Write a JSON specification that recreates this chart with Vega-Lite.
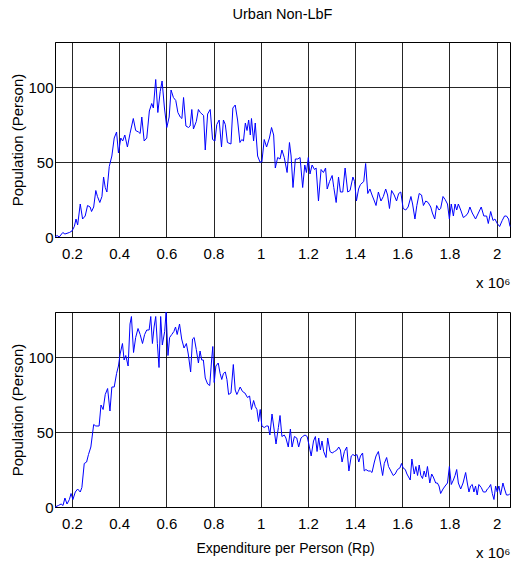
{
  "$schema": "https://vega.github.io/schema/vega-lite/v6.json",
  "background": "white",
  "padding": {"left": 10, "top": 6, "right": 3, "bottom": 5},
  "spacing": 18,
  "config": {
    "font": "Liberation Sans",
    "view": {"stroke": "black", "strokeWidth": 1},
    "axis": {
      "grid": true, "gridColor": "black", "gridOpacity": 0.85, "gridWidth": 1,
      "domainColor": "black", "ticks": false, "tickSize": 0,
      "labelFont": "Liberation Sans", "labelFontSize": 15, "labelColor": "black",
      "titleFont": "Liberation Sans", "titleFontSize": 15, "titleFontWeight": "normal", "titleColor": "black"
    },
    "axisX": {"labelPadding": 9, "labelFlush": false, "titlePadding": 14, "titleAnchor": "end"},
    "axisY": {"labelPadding": 2, "titlePadding": 2},
    "title": {"font": "Liberation Sans", "fontSize": 14.5, "fontWeight": "normal", "color": "black"}
  },
  "datasets": {
    "top": [
      {"exp":128000,"pop":0},{"exp":137000,"pop":1},{"exp":146000,"pop":0},{"exp":161000,"pop":3},{"exp":170000,"pop":2},{"exp":189000,"pop":3},{"exp":200000,"pop":4},{"exp":210000,"pop":7},{"exp":217000,"pop":12},{"exp":224000,"pop":8},{"exp":235000,"pop":22},{"exp":245000,"pop":12},{"exp":256000,"pop":14},{"exp":266000,"pop":21},{"exp":277000,"pop":20},{"exp":283000,"pop":17},{"exp":292000,"pop":20},{"exp":301000,"pop":31},{"exp":308000,"pop":27},{"exp":318000,"pop":23},{"exp":327000,"pop":27},{"exp":334000,"pop":40},{"exp":341000,"pop":33},{"exp":348000,"pop":30},{"exp":358000,"pop":47},{"exp":369000,"pop":54},{"exp":379000,"pop":66},{"exp":389000,"pop":70},{"exp":397000,"pop":56},{"exp":407000,"pop":66},{"exp":415000,"pop":64},{"exp":424000,"pop":68},{"exp":435000,"pop":60},{"exp":446000,"pop":69},{"exp":460000,"pop":79},{"exp":470000,"pop":71},{"exp":482000,"pop":70},{"exp":489000,"pop":69},{"exp":496000,"pop":80},{"exp":506000,"pop":64},{"exp":517000,"pop":66},{"exp":528000,"pop":84},{"exp":538000,"pop":89},{"exp":545000,"pop":86},{"exp":555000,"pop":105},{"exp":564000,"pop":83},{"exp":574000,"pop":97},{"exp":582000,"pop":104},{"exp":592000,"pop":86},{"exp":602000,"pop":73},{"exp":612000,"pop":80},{"exp":620000,"pop":98},{"exp":630000,"pop":93},{"exp":640000,"pop":91},{"exp":649000,"pop":83},{"exp":659000,"pop":80},{"exp":666000,"pop":79},{"exp":673000,"pop":93},{"exp":683000,"pop":74},{"exp":694000,"pop":73},{"exp":701000,"pop":74},{"exp":708000,"pop":85},{"exp":715000,"pop":72},{"exp":727000,"pop":77},{"exp":736000,"pop":85},{"exp":744000,"pop":83},{"exp":751000,"pop":82},{"exp":758000,"pop":81},{"exp":765000,"pop":58},{"exp":775000,"pop":82},{"exp":786000,"pop":85},{"exp":796000,"pop":65},{"exp":806000,"pop":64},{"exp":814000,"pop":75},{"exp":824000,"pop":78},{"exp":834000,"pop":60},{"exp":842000,"pop":78},{"exp":850000,"pop":75},{"exp":859000,"pop":63},{"exp":874000,"pop":62},{"exp":882000,"pop":86},{"exp":892000,"pop":88},{"exp":902000,"pop":78},{"exp":912000,"pop":63},{"exp":920000,"pop":65},{"exp":927000,"pop":64},{"exp":935000,"pop":76},{"exp":942000,"pop":71},{"exp":949000,"pop":78},{"exp":956000,"pop":68},{"exp":961000,"pop":79},{"exp":970000,"pop":64},{"exp":977000,"pop":76},{"exp":987000,"pop":54},{"exp":997000,"pop":50},{"exp":1005000,"pop":50},{"exp":1015000,"pop":65},{"exp":1025000,"pop":60},{"exp":1037000,"pop":66},{"exp":1046000,"pop":73},{"exp":1055000,"pop":68},{"exp":1062000,"pop":46},{"exp":1072000,"pop":53},{"exp":1082000,"pop":52},{"exp":1090000,"pop":58},{"exp":1100000,"pop":53},{"exp":1112000,"pop":43},{"exp":1122000,"pop":63},{"exp":1129000,"pop":54},{"exp":1137000,"pop":33},{"exp":1147000,"pop":52},{"exp":1157000,"pop":52},{"exp":1167000,"pop":53},{"exp":1178000,"pop":33},{"exp":1187000,"pop":48},{"exp":1194000,"pop":43},{"exp":1202000,"pop":53},{"exp":1209000,"pop":42},{"exp":1218000,"pop":48},{"exp":1228000,"pop":45},{"exp":1235000,"pop":46},{"exp":1245000,"pop":24},{"exp":1256000,"pop":45},{"exp":1266000,"pop":43},{"exp":1275000,"pop":46},{"exp":1282000,"pop":32},{"exp":1292000,"pop":37},{"exp":1303000,"pop":41},{"exp":1310000,"pop":33},{"exp":1320000,"pop":23},{"exp":1330000,"pop":40},{"exp":1338000,"pop":30},{"exp":1348000,"pop":30},{"exp":1358000,"pop":46},{"exp":1369000,"pop":30},{"exp":1379000,"pop":31},{"exp":1391000,"pop":40},{"exp":1398000,"pop":37},{"exp":1406000,"pop":24},{"exp":1415000,"pop":32},{"exp":1423000,"pop":35},{"exp":1437000,"pop":37},{"exp":1445000,"pop":49},{"exp":1454000,"pop":29},{"exp":1463000,"pop":32},{"exp":1472000,"pop":28},{"exp":1482000,"pop":24},{"exp":1489000,"pop":21},{"exp":1499000,"pop":30},{"exp":1510000,"pop":24},{"exp":1520000,"pop":27},{"exp":1530000,"pop":32},{"exp":1538000,"pop":28},{"exp":1546000,"pop":19},{"exp":1555000,"pop":31},{"exp":1566000,"pop":28},{"exp":1576000,"pop":24},{"exp":1585000,"pop":29},{"exp":1594000,"pop":30},{"exp":1604000,"pop":19},{"exp":1615000,"pop":18},{"exp":1625000,"pop":20},{"exp":1637000,"pop":27},{"exp":1644000,"pop":22},{"exp":1654000,"pop":12},{"exp":1662000,"pop":21},{"exp":1672000,"pop":29},{"exp":1682000,"pop":28},{"exp":1690000,"pop":21},{"exp":1700000,"pop":24},{"exp":1710000,"pop":23},{"exp":1721000,"pop":20},{"exp":1728000,"pop":16},{"exp":1738000,"pop":12},{"exp":1746000,"pop":21},{"exp":1756000,"pop":18},{"exp":1763000,"pop":19},{"exp":1773000,"pop":27},{"exp":1782000,"pop":25},{"exp":1792000,"pop":22},{"exp":1800000,"pop":12},{"exp":1808000,"pop":22},{"exp":1817000,"pop":14},{"exp":1824000,"pop":22},{"exp":1831000,"pop":18},{"exp":1838000,"pop":22},{"exp":1848000,"pop":18},{"exp":1859000,"pop":13},{"exp":1869000,"pop":14},{"exp":1879000,"pop":16},{"exp":1887000,"pop":20},{"exp":1897000,"pop":16},{"exp":1911000,"pop":12},{"exp":1923000,"pop":16},{"exp":1935000,"pop":20},{"exp":1946000,"pop":14},{"exp":1958000,"pop":14},{"exp":1965000,"pop":9},{"exp":1975000,"pop":17},{"exp":1985000,"pop":11},{"exp":1993000,"pop":12},{"exp":2003000,"pop":9},{"exp":2013000,"pop":7},{"exp":2024000,"pop":11},{"exp":2034000,"pop":14},{"exp":2042000,"pop":14},{"exp":2051000,"pop":12},{"exp":2057000,"pop":7}
    ],
    "bottom": [
      {"exp":128000,"pop":0},{"exp":142000,"pop":1},{"exp":154000,"pop":2},{"exp":162000,"pop":1},{"exp":170000,"pop":6},{"exp":179000,"pop":2},{"exp":189000,"pop":5},{"exp":196000,"pop":9},{"exp":204000,"pop":5},{"exp":214000,"pop":10},{"exp":224000,"pop":12},{"exp":235000,"pop":10},{"exp":242000,"pop":13},{"exp":252000,"pop":29},{"exp":262000,"pop":30},{"exp":270000,"pop":35},{"exp":280000,"pop":40},{"exp":292000,"pop":55},{"exp":301000,"pop":54},{"exp":315000,"pop":54},{"exp":323000,"pop":68},{"exp":332000,"pop":65},{"exp":341000,"pop":75},{"exp":351000,"pop":79},{"exp":361000,"pop":64},{"exp":369000,"pop":80},{"exp":379000,"pop":80},{"exp":389000,"pop":89},{"exp":397000,"pop":94},{"exp":404000,"pop":102},{"exp":414000,"pop":109},{"exp":421000,"pop":98},{"exp":428000,"pop":101},{"exp":438000,"pop":94},{"exp":446000,"pop":122},{"exp":452000,"pop":127},{"exp":461000,"pop":103},{"exp":470000,"pop":113},{"exp":480000,"pop":119},{"exp":489000,"pop":115},{"exp":499000,"pop":109},{"exp":508000,"pop":115},{"exp":517000,"pop":118},{"exp":527000,"pop":118},{"exp":534000,"pop":127},{"exp":541000,"pop":109},{"exp":548000,"pop":120},{"exp":555000,"pop":127},{"exp":562000,"pop":109},{"exp":569000,"pop":93},{"exp":576000,"pop":127},{"exp":583000,"pop":108},{"exp":593000,"pop":117},{"exp":599000,"pop":130},{"exp":607000,"pop":101},{"exp":614000,"pop":113},{"exp":623000,"pop":115},{"exp":632000,"pop":117},{"exp":639000,"pop":120},{"exp":646000,"pop":115},{"exp":656000,"pop":122},{"exp":665000,"pop":112},{"exp":675000,"pop":106},{"exp":685000,"pop":109},{"exp":693000,"pop":102},{"exp":703000,"pop":90},{"exp":711000,"pop":112},{"exp":718000,"pop":113},{"exp":727000,"pop":105},{"exp":736000,"pop":96},{"exp":743000,"pop":104},{"exp":750000,"pop":98},{"exp":757000,"pop":98},{"exp":765000,"pop":86},{"exp":775000,"pop":82},{"exp":784000,"pop":81},{"exp":792000,"pop":98},{"exp":797000,"pop":107},{"exp":803000,"pop":83},{"exp":810000,"pop":94},{"exp":820000,"pop":96},{"exp":828000,"pop":89},{"exp":835000,"pop":85},{"exp":842000,"pop":89},{"exp":850000,"pop":90},{"exp":857000,"pop":85},{"exp":864000,"pop":75},{"exp":874000,"pop":76},{"exp":884000,"pop":95},{"exp":892000,"pop":78},{"exp":899000,"pop":75},{"exp":905000,"pop":77},{"exp":913000,"pop":80},{"exp":923000,"pop":77},{"exp":933000,"pop":76},{"exp":944000,"pop":73},{"exp":953000,"pop":74},{"exp":961000,"pop":65},{"exp":970000,"pop":71},{"exp":977000,"pop":67},{"exp":984000,"pop":65},{"exp":991000,"pop":57},{"exp":998000,"pop":65},{"exp":1005000,"pop":54},{"exp":1015000,"pop":53},{"exp":1025000,"pop":54},{"exp":1032000,"pop":54},{"exp":1039000,"pop":48},{"exp":1048000,"pop":62},{"exp":1055000,"pop":54},{"exp":1065000,"pop":42},{"exp":1075000,"pop":53},{"exp":1082000,"pop":61},{"exp":1090000,"pop":47},{"exp":1100000,"pop":48},{"exp":1107000,"pop":46},{"exp":1117000,"pop":40},{"exp":1126000,"pop":52},{"exp":1133000,"pop":40},{"exp":1143000,"pop":47},{"exp":1153000,"pop":46},{"exp":1161000,"pop":40},{"exp":1171000,"pop":46},{"exp":1178000,"pop":47},{"exp":1188000,"pop":48},{"exp":1197000,"pop":47},{"exp":1204000,"pop":42},{"exp":1214000,"pop":34},{"exp":1224000,"pop":44},{"exp":1232000,"pop":47},{"exp":1239000,"pop":37},{"exp":1246000,"pop":46},{"exp":1253000,"pop":38},{"exp":1260000,"pop":44},{"exp":1267000,"pop":37},{"exp":1277000,"pop":33},{"exp":1284000,"pop":46},{"exp":1294000,"pop":37},{"exp":1303000,"pop":36},{"exp":1313000,"pop":37},{"exp":1323000,"pop":38},{"exp":1331000,"pop":40},{"exp":1338000,"pop":38},{"exp":1345000,"pop":30},{"exp":1355000,"pop":37},{"exp":1365000,"pop":40},{"exp":1374000,"pop":24},{"exp":1384000,"pop":34},{"exp":1391000,"pop":35},{"exp":1401000,"pop":34},{"exp":1408000,"pop":35},{"exp":1416000,"pop":30},{"exp":1423000,"pop":34},{"exp":1432000,"pop":36},{"exp":1439000,"pop":24},{"exp":1446000,"pop":25},{"exp":1456000,"pop":24},{"exp":1465000,"pop":24},{"exp":1472000,"pop":23},{"exp":1482000,"pop":30},{"exp":1489000,"pop":34},{"exp":1499000,"pop":37},{"exp":1507000,"pop":30},{"exp":1517000,"pop":21},{"exp":1524000,"pop":29},{"exp":1534000,"pop":33},{"exp":1542000,"pop":27},{"exp":1552000,"pop":24},{"exp":1562000,"pop":21},{"exp":1570000,"pop":22},{"exp":1580000,"pop":25},{"exp":1590000,"pop":26},{"exp":1597000,"pop":29},{"exp":1604000,"pop":26},{"exp":1613000,"pop":25},{"exp":1620000,"pop":22},{"exp":1627000,"pop":20},{"exp":1634000,"pop":18},{"exp":1641000,"pop":32},{"exp":1651000,"pop":22},{"exp":1658000,"pop":27},{"exp":1665000,"pop":21},{"exp":1672000,"pop":28},{"exp":1679000,"pop":21},{"exp":1686000,"pop":19},{"exp":1693000,"pop":24},{"exp":1700000,"pop":20},{"exp":1707000,"pop":27},{"exp":1717000,"pop":16},{"exp":1725000,"pop":22},{"exp":1732000,"pop":20},{"exp":1742000,"pop":16},{"exp":1749000,"pop":16},{"exp":1756000,"pop":14},{"exp":1763000,"pop":9},{"exp":1773000,"pop":12},{"exp":1782000,"pop":14},{"exp":1792000,"pop":16},{"exp":1800000,"pop":27},{"exp":1808000,"pop":15},{"exp":1817000,"pop":18},{"exp":1824000,"pop":21},{"exp":1831000,"pop":25},{"exp":1838000,"pop":16},{"exp":1848000,"pop":12},{"exp":1858000,"pop":16},{"exp":1869000,"pop":23},{"exp":1876000,"pop":16},{"exp":1883000,"pop":10},{"exp":1890000,"pop":14},{"exp":1897000,"pop":15},{"exp":1904000,"pop":10},{"exp":1911000,"pop":14},{"exp":1918000,"pop":8},{"exp":1925000,"pop":15},{"exp":1935000,"pop":13},{"exp":1944000,"pop":10},{"exp":1954000,"pop":10},{"exp":1961000,"pop":12},{"exp":1968000,"pop":13},{"exp":1975000,"pop":15},{"exp":1982000,"pop":9},{"exp":1989000,"pop":5},{"exp":1996000,"pop":14},{"exp":2003000,"pop":10},{"exp":2010000,"pop":14},{"exp":2017000,"pop":8},{"exp":2027000,"pop":16},{"exp":2034000,"pop":12},{"exp":2042000,"pop":8},{"exp":2051000,"pop":8},{"exp":2057000,"pop":9}
    ]
  },
  "vconcat": [
    {
      "data": {"name": "top"},
      "width": 455, "height": 195,
      "title": {"text": "Urban Non-LbF", "anchor": "middle", "frame": "group", "offset": 19.5},
      "mark": {"type": "line", "color": "#0000ff", "strokeWidth": 1},
      "encoding": {
        "x": {"field": "exp", "type": "quantitative",
              "scale": {"domain": [128000, 2057000], "nice": false, "zero": false},
              "axis": {"values": [200000,400000,600000,800000,1000000,1200000,1400000,1600000,1800000,2000000],
                       "labelExpr": "format(datum.value/1000000, '~g')", "title": "x 10⁶"}},
        "y": {"field": "pop", "type": "quantitative",
              "scale": {"domain": [0, 130], "nice": false},
              "axis": {"values": [0, 50, 100], "title": "Population (Person)"}}
      }
    },
    {
      "data": {"name": "bottom"},
      "width": 455, "height": 195,
      "title": {"text": "Expenditure per Person (Rp)", "orient": "bottom", "anchor": "middle", "frame": "group", "offset": -18, "fontSize": 14, "dx": 3},
      "mark": {"type": "line", "color": "#0000ff", "strokeWidth": 1},
      "encoding": {
        "x": {"field": "exp", "type": "quantitative",
              "scale": {"domain": [128000, 2057000], "nice": false, "zero": false},
              "axis": {"values": [200000,400000,600000,800000,1000000,1200000,1400000,1600000,1800000,2000000],
                       "labelExpr": "format(datum.value/1000000, '~g')", "title": "x 10⁶"}},
        "y": {"field": "pop", "type": "quantitative",
              "scale": {"domain": [0, 130], "nice": false},
              "axis": {"values": [0, 50, 100], "title": "Population (Person)"}}
      }
    }
  ]
}
